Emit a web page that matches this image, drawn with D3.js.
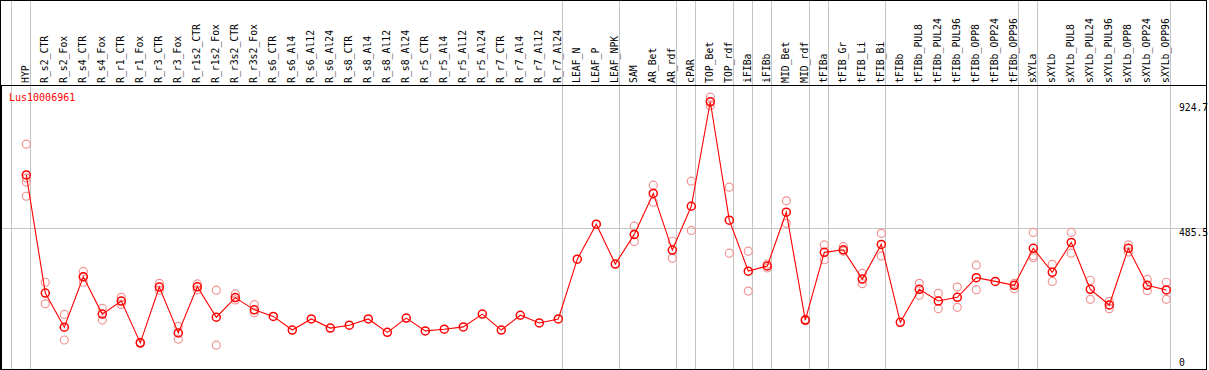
<!DOCTYPE html>
<html>
<head>
<meta charset="utf-8">
<script src="https://cdn.jsdelivr.net/npm/d3@7"></script>
<style>
  body { margin: 0; background: #fff; }
  text { font-family: "DejaVu Sans Mono", monospace; }
</style>
</head>
<body>
<svg id="chart"></svg>
<script>
// sample names, in drawing order
var categories = ["HYP", "R_s2_CTR", "R_s2_Fox", "R_s4_CTR", "R_s4_Fox", "R_r1_CTR", "R_r1_Fox",
  "R_r3_CTR", "R_r3_Fox", "R_r1s2_CTR", "R_r1s2_Fox", "R_r3s2_CTR", "R_r3s2_Fox",
  "R_s6_CTR", "R_s6_Al4", "R_s6_Al12", "R_s6_Al24", "R_s8_CTR", "R_s8_Al4", "R_s8_Al12", "R_s8_Al24",
  "R_r5_CTR", "R_r5_Al4", "R_r5_Al12", "R_r5_Al24", "R_r7_CTR", "R_r7_Al4", "R_r7_Al12", "R_r7_Al24",
  "LEAF_N", "LEAF_P", "LEAF_NPK", "SAM", "AR_Bet", "AR_rdf", "cPAR", "TOP_Bet", "TOP_rdf",
  "iFIBa", "iFIBb", "MID_Bet", "MID_rdf", "tFIBa", "tFIB_Gr", "tFIB_Li", "tFIB_Bi",
  "tFIBb", "tFIBb_PUL8", "tFIBb_PUL24", "tFIBb_PUL96", "tFIBb_OPP8", "tFIBb_OPP24", "tFIBb_OPP96",
  "sXYLa", "sXYLb", "sXYLb_PUL8", "sXYLb_PUL24", "sXYLb_PUL96", "sXYLb_OPP8", "sXYLb_OPP24", "sXYLb_OPP96"];

// number of samples in each tissue group (a grey line closes every group)
var groupSizes = [1, 28, 3, 3, 1, 2, 1, 1, 2, 1, 3, 7, 1, 7];

// mean expression per sample
var means = [672, 257, 137, 314, 183, 229, 82, 278, 117, 279, 172, 241, 198,
  175, 127, 166, 134, 144, 166, 119, 169, 124, 130, 138, 183, 127, 179, 152, 166,
  376, 499, 359, 463, 607, 408, 562, 929, 513,
  334, 352, 541, 162, 400, 409, 306, 428,
  154, 270, 229, 242, 311, 298, 284,
  414, 330, 435, 270, 215, 414, 284, 268];

// replicate values per sample
var replicates = [[780, 661, 647, 597], [295, 219], [182, 92], [333, 315, 295], [203, 162], [242, 217], [84, 80],
  [291, 267], [140, 95], [289, 268], [267, 74], [254, 233], [216, 188],
  [], [], [], [], [], [], [], [], [], [], [], [], [], [], [], [],
  [], [], [], [492, 462, 438], [636, 576], [439, 379], [650, 477], [945, 930, 915], [629, 397],
  [404, 264], [359, 345], [581, 502], [165, 160], [426, 374], [420, 404], [326, 290], [467, 387],
  [], [291, 249], [256, 202], [278, 207], [355, 269], [], [291, 272],
  [470, 388, 381], [358, 298], [470, 397], [302, 235], [228, 202], [426, 401], [305, 265], [295, 235]];

// value labels on the right side
var tickValues = [924.7, 485.5, 0];
var gridValues = [485.5];
var title = "Lus10006961";

var W = 1209, H = 370;
var frameRight = 1206.5, headerBottom = 85.5, plotBottom = 369.5;

var svg = d3.select("#chart").attr("width", W).attr("height", H);

var x = d3.scaleBand()
  .domain(categories)
  .range([16.8, 16.8 + 19 * categories.length])
  .padding(0);
function cx(c) { return x(c) + x.bandwidth() / 2; }

var y = d3.scaleLinear()
  .domain([0, 924.7])
  .range([366.2, 103]);

// group separators
var sepX = [cx(categories[0]) - 19 + 4];
var k = 0;
groupSizes.forEach(function(n) {
  k += n;
  sepX.push(cx(categories[k - 1]) + 4);
});
svg.selectAll(".sep")
  .data(sepX)
  .enter().append("line")
  .attr("class", "sep")
  .attr("x1", function(d) { return Math.round(d) + 0.5; })
  .attr("x2", function(d) { return Math.round(d) + 0.5; })
  .attr("y1", 0).attr("y2", plotBottom)
  .attr("stroke", "#c4c4c4").attr("stroke-width", 1);

// horizontal grid
svg.selectAll(".grid")
  .data(gridValues)
  .enter().append("line")
  .attr("class", "grid")
  .attr("x1", 0).attr("x2", frameRight)
  .attr("y1", function(d) { return Math.round(y(d)) + 0.5; })
  .attr("y2", function(d) { return Math.round(y(d)) + 0.5; })
  .attr("stroke", "#c4c4c4").attr("stroke-width", 1);

// frame
svg.append("rect")
  .attr("x", 0.5).attr("y", 0.5)
  .attr("width", frameRight - 0.5).attr("height", plotBottom - 0.5)
  .attr("fill", "none").attr("stroke", "#000").attr("stroke-width", 1);
svg.append("line")
  .attr("x1", 0).attr("x2", frameRight)
  .attr("y1", headerBottom).attr("y2", headerBottom)
  .attr("stroke", "#000").attr("stroke-width", 1);
svg.append("line")
  .attr("x1", 1.2).attr("x2", 1.2)
  .attr("y1", headerBottom).attr("y2", plotBottom)
  .attr("stroke", "#000").attr("stroke-width", 1.6);

// column labels
svg.selectAll(".colLabel")
  .data(categories)
  .enter().append("text")
  .attr("class", "colLabel")
  .attr("transform", function(d) { return "translate(" + (Math.round(cx(d)) + 3) + ",83) rotate(-90)"; })
  .attr("font-size", "9.8px")
  .attr("fill", "#000")
  .text(function(d) { return d; });

// right value labels
svg.selectAll(".valLabel")
  .data(tickValues)
  .enter().append("text")
  .attr("class", "valLabel")
  .attr("x", 1179)
  .attr("y", function(d) { return Math.min(y(d) + 8, 366); })
  .attr("font-size", "9.7px")
  .attr("fill", "#000")
  .text(function(d) { return d; });

// title
svg.append("text")
  .attr("x", 9).attr("y", 101)
  .attr("font-size", "10px")
  .attr("fill", "#ff0000")
  .text(title);

// replicate points
var reps = [];
replicates.forEach(function(arr, i) {
  arr.forEach(function(v) { reps.push({ c: categories[i], v: v }); });
});
svg.selectAll(".rep")
  .data(reps)
  .enter().append("circle")
  .attr("class", "rep")
  .attr("cx", function(d) { return cx(d.c); })
  .attr("cy", function(d) { return y(d.v); })
  .attr("r", 4)
  .attr("fill", "none")
  .attr("stroke", "#f09494")
  .attr("stroke-width", 1.2);

// mean line
var line = d3.line()
  .x(function(d, i) { return cx(categories[i]); })
  .y(function(d) { return y(d); });
svg.append("path")
  .datum(means)
  .attr("d", line)
  .attr("fill", "none")
  .attr("stroke", "#ff0000")
  .attr("stroke-width", 1.1);

svg.selectAll(".mean")
  .data(means)
  .enter().append("circle")
  .attr("class", "mean")
  .attr("cx", function(d, i) { return cx(categories[i]); })
  .attr("cy", function(d) { return y(d); })
  .attr("r", 4)
  .attr("fill", "none")
  .attr("stroke", "#ff0000")
  .attr("stroke-width", 1.5);
</script>
</body>
</html>
